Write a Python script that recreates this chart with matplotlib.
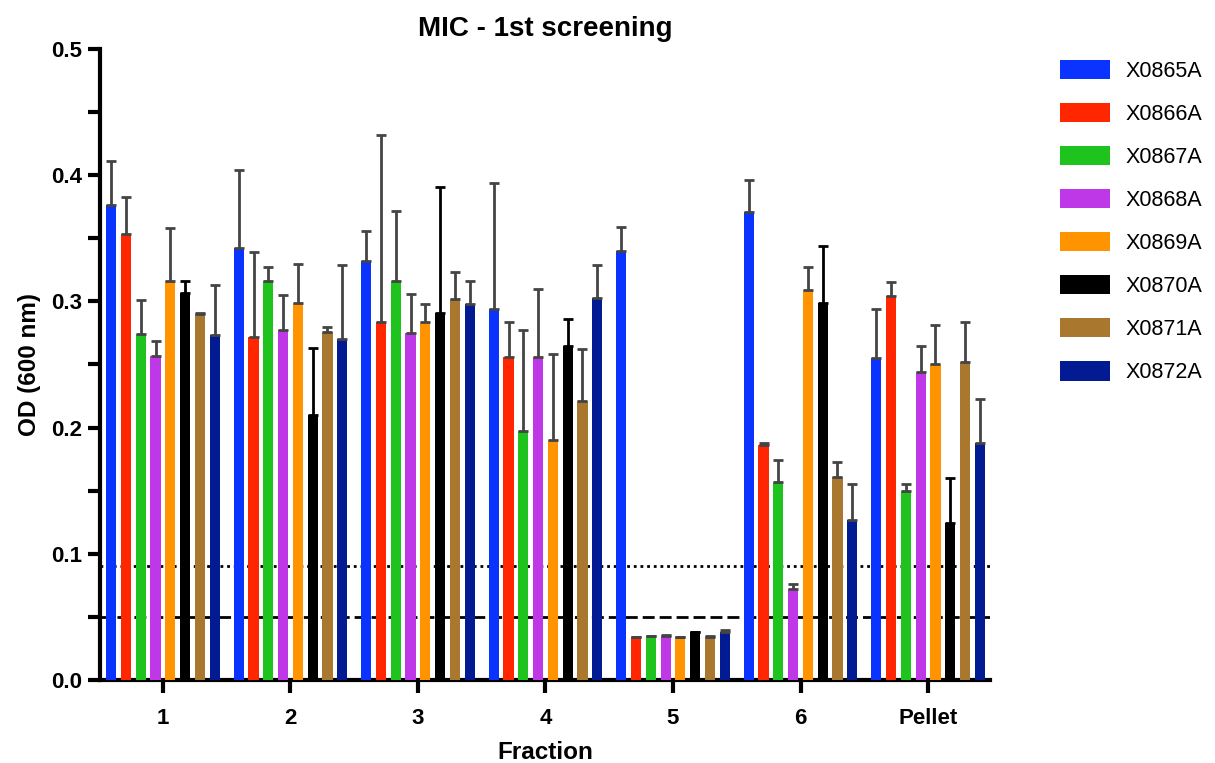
import numpy as np
import matplotlib
matplotlib.use("Agg")
import matplotlib.pyplot as plt
from matplotlib.patches import Patch
from matplotlib.ticker import MultipleLocator

plt.rcParams['font.family'] = ['Liberation Sans', 'DejaVu Sans']

fractions = ["1", "2", "3", "4", "5", "6", "Pellet"]
strains = ["X0865A", "X0866A", "X0867A", "X0868A", "X0869A", "X0870A", "X0871A", "X0872A"]
colors = ["#0a33ff", "#ff2600", "#1ec31e", "#be38e8", "#ff9300", "#000000", "#a9782e", "#021a92"]

# mean OD per strain, one value per fraction
means = [
    [0.376, 0.342, 0.332, 0.294, 0.340, 0.371, 0.255],
    [0.353, 0.272, 0.284, 0.256, 0.034, 0.186, 0.304],
    [0.274, 0.316, 0.316, 0.197, 0.035, 0.157, 0.150],
    [0.257, 0.277, 0.275, 0.256, 0.035, 0.072, 0.244],
    [0.316, 0.299, 0.284, 0.190, 0.034, 0.309, 0.250],
    [0.307, 0.210, 0.291, 0.265, 0.038, 0.299, 0.124],
    [0.290, 0.276, 0.302, 0.221, 0.034, 0.161, 0.252],
    [0.273, 0.270, 0.298, 0.303, 0.038, 0.127, 0.188],
]
# top of error bars
tops = [
    [0.411, 0.404, 0.356, 0.394, 0.359, 0.396, 0.294],
    [0.383, 0.339, 0.432, 0.284, 0.034, 0.188, 0.315],
    [0.301, 0.327, 0.372, 0.277, 0.035, 0.174, 0.155],
    [0.269, 0.305, 0.306, 0.310, 0.036, 0.076, 0.265],
    [0.358, 0.330, 0.298, 0.258, 0.034, 0.327, 0.281],
    [0.316, 0.263, 0.391, 0.286, 0.038, 0.344, 0.160],
    [0.291, 0.280, 0.323, 0.262, 0.035, 0.173, 0.284],
    [0.313, 0.329, 0.316, 0.329, 0.040, 0.155, 0.223],
]
dotted_level = 0.09
dashed_level = 0.05

fig = plt.figure(figsize=(12.15, 7.63), dpi=100)
ax = fig.add_axes([0.0823, 0.1088, 0.7325, 0.827])

x = np.arange(len(fractions))
step = 0.116
width = 0.08
for i in range(len(strains)):
    pos = x + (i - 3.5) * step
    m = np.array(means[i])
    err = np.array(tops[i]) - m
    ecol = "#000000" if colors[i] == "#000000" else "#444444"
    ax.bar(pos, m, width, color=colors[i], zorder=3, edgecolor="none")
    ax.errorbar(pos, m, yerr=[np.zeros_like(err), err], fmt="none",
                ecolor=ecol, elinewidth=2, capsize=3.5, capthick=2, zorder=4)

ax.axhline(dotted_level, color="black", linestyle=(0, (1, 1.4)), linewidth=2, zorder=2)
ax.axhline(dashed_level, color="black", linestyle=(0, (4.3, 1.8)), linewidth=2, zorder=2)

ax.set_xlim(-0.494, 6.486)
ax.set_ylim(0, 0.5)
ax.set_xticks(x)
ax.set_xticklabels(fractions)
ax.yaxis.set_major_locator(MultipleLocator(0.1))
ax.yaxis.set_minor_locator(MultipleLocator(0.05))
ax.yaxis.set_major_formatter(matplotlib.ticker.FormatStrFormatter("%.1f"))

for s in ["top", "right"]:
    ax.spines[s].set_visible(False)
for s in ["left", "bottom"]:
    ax.spines[s].set_linewidth(3)
ax.tick_params(axis="both", which="both", width=3, length=9, direction="out")
ax.tick_params(axis="x", pad=11)
ax.tick_params(axis="y", pad=4)
for lab in ax.get_xticklabels() + ax.get_yticklabels():
    lab.set_fontsize(16)
    lab.set_fontweight("bold")

ax.set_xlabel("Fraction", fontsize=17.5, fontweight="bold", labelpad=9)
ax.set_ylabel("OD (600 nm)", fontsize=17.5, fontweight="bold", labelpad=7)
ax.set_title("MIC - 1st screening", fontsize=20, fontweight="bold", pad=9)

handles = [Patch(facecolor=c, edgecolor="none") for c in colors]
fig.legend(handles, strains, loc="upper left", bbox_to_anchor=(0.8724, 0.922),
           frameon=False, fontsize=15.5, handlelength=2.33, handleheight=1.0,
           labelspacing=0.98, handletextpad=0.7, borderpad=0, borderaxespad=0)

fig.savefig("out.png", dpi=100)
